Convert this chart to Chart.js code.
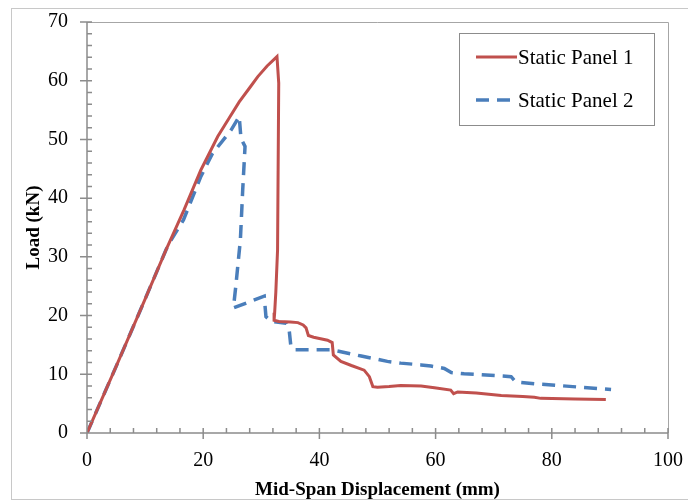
<!DOCTYPE html>
<html>
<head>
<meta charset="utf-8">
<title>Load vs Mid-Span Displacement</title>
<script src="https://cdn.jsdelivr.net/npm/chart.js@4.4.1/dist/chart.umd.min.js"></script>
<style>
    html, body { margin: 0; padding: 0; background: #fff; }
    #wrap { width: 688px; height: 501px; }
</style>
</head>
<body>
<div id="wrap"><canvas id="loadChart" width="688" height="501"></canvas></div>
<script>
// Panel 1 (static) load-displacement record
const panel1Disp = [0, 5, 10, 13.6, 16.7, 19.6, 22.5, 24.5, 26.2, 28, 29.4, 31, 32.7, 33.0, 32.8, 32.5, 32.3, 32.2, 33, 35, 36.3, 37.2, 37.7, 38.1, 39, 41.4, 42.2, 42.4, 43.7, 45.5, 47.7, 48.6, 49.2, 50, 52, 54, 57.5, 59.8, 62.6, 63.1, 63.8, 67, 71.3, 75, 77, 78.1, 84, 89.3];
const panel1Load = [0, 11.3, 22.8, 31.2, 38.0, 44.8, 50.5, 53.7, 56.4, 58.8, 60.7, 62.5, 64.1, 59.6, 31.2, 24, 20.5, 19.2, 19.0, 18.9, 18.8, 18.4, 17.9, 16.6, 16.3, 15.8, 15.4, 13.3, 12.2, 11.5, 10.7, 9.6, 7.9, 7.8, 7.9, 8.1, 8.0, 7.7, 7.3, 6.7, 7.0, 6.8, 6.4, 6.2, 6.1, 5.9, 5.8, 5.7];

// Panel 2 (static) load-displacement record
const panel2Disp = [0, 5, 10, 13.6, 14.5, 16.6, 19.6, 21.6, 24.8, 26.2, 26.5, 27.2, 26.8, 26.4, 25.6, 25.2, 30.5, 30.8, 31.7, 34.3, 34.8, 35.1, 35.7, 42, 47.2, 51.7, 54, 57.5, 59.2, 61.5, 62.7, 64.9, 73, 73.8, 77, 90.2];
const panel2Load = [0, 11.3, 22.8, 31.2, 32.9, 36.3, 43.7, 47.6, 51.6, 53.9, 50.2, 48.8, 41.4, 32.9, 24.9, 21.3, 23.3, 19.8, 19.0, 18.7, 17.5, 14.7, 14.2, 14.2, 13.1, 12.2, 11.9, 11.6, 11.4, 11.0, 10.3, 10.1, 9.6, 8.7, 8.4, 7.4];

const seriesLabels = ['Static Panel 1', 'Static Panel 2'];
const xTicks = [0, 20, 40, 60, 80, 100];
const yTicks = [0, 10, 20, 30, 40, 50, 60, 70];

const toPoints = (xs, ys) => xs.map((x, i) => ({ x: x, y: ys[i] }));

const serif = '"Liberation Serif", "Times New Roman", serif';
const axisGray = '#8c8c8c';

// Frame around the whole figure plus the plot box
const framePlugin = {
    id: 'frame',
    beforeDraw(chart) {
        const ctx = chart.ctx;
        ctx.save();
        ctx.fillStyle = '#fff';
        ctx.fillRect(0, 0, chart.width, chart.height);
        ctx.strokeStyle = '#c8c8c8';
        ctx.lineWidth = 1;
        ctx.strokeRect(11.5, 8.5, 690, 491);
        ctx.restore();
    },
    afterDatasetsDraw(chart) {
        const { ctx, chartArea: a, scales } = chart;
        const xs = scales.x, ys = scales.y;
        ctx.save();
        ctx.strokeStyle = '#a6a6a6';
        ctx.lineWidth = 1;
        ctx.beginPath();
        ctx.moveTo(a.left, a.top + 0.5);
        ctx.lineTo(a.right + 0.5, a.top + 0.5);
        ctx.lineTo(a.right + 0.5, a.bottom);
        ctx.stroke();

        ctx.strokeStyle = axisGray;
        ctx.lineWidth = 1.5;
        ctx.beginPath();
        ctx.moveTo(a.left, a.top);
        ctx.lineTo(a.left, a.bottom);
        ctx.lineTo(a.right, a.bottom);
        // x ticks: minor every 4 inside, major every 20 across
        for (let v = 0; v <= 100; v += 4) {
            const px = xs.getPixelForValue(v);
            ctx.moveTo(px, a.bottom);
            ctx.lineTo(px, a.bottom - 5);
        }
        xTicks.forEach(v => {
            const px = xs.getPixelForValue(v);
            ctx.moveTo(px, a.bottom + 6);
            ctx.lineTo(px, a.bottom - 5);
        });
        // y ticks: minor every 2 inside, major every 10 across
        for (let v = 0; v <= 70; v += 2) {
            const py = ys.getPixelForValue(v);
            ctx.moveTo(a.left, py);
            ctx.lineTo(a.left + 5, py);
        }
        yTicks.forEach(v => {
            const py = ys.getPixelForValue(v);
            ctx.moveTo(a.left - 7, py);
            ctx.lineTo(a.left + 5, py);
        });
        ctx.stroke();
        ctx.restore();
    },
    afterDraw(chart) {
        // boxed legend in the upper right of the plot
        const ctx = chart.ctx;
        const box = { x: 459.5, y: 33.5, w: 195, h: 92 };
        ctx.save();
        ctx.fillStyle = '#fff';
        ctx.fillRect(box.x, box.y, box.w, box.h);
        ctx.strokeStyle = '#8c8c8c';
        ctx.lineWidth = 1;
        ctx.strokeRect(box.x, box.y, box.w, box.h);
        ctx.font = '21px ' + serif;
        ctx.textBaseline = 'middle';
        ctx.fillStyle = '#000';
        chart.data.datasets.forEach((ds, i) => {
            const yy = 57 + i * 43;
            ctx.strokeStyle = ds.borderColor;
            ctx.lineWidth = ds.borderWidth;
            ctx.setLineDash(ds.borderDash || []);
            ctx.beginPath();
            ctx.moveTo(476, yy);
            ctx.lineTo(517, yy);
            ctx.stroke();
            ctx.setLineDash([]);
            ctx.fillText(ds.label, 518, yy + 1);
        });
        ctx.restore();
    }
};

new Chart(document.getElementById('loadChart'), {
    type: 'line',
    data: {
        datasets: [{
            label: seriesLabels[0],
            data: toPoints(panel1Disp, panel1Load),
            borderColor: '#c0504d',
            borderWidth: 3,
            pointRadius: 0,
            tension: 0,
            fill: false
        }, {
            label: seriesLabels[1],
            data: toPoints(panel2Disp, panel2Load),
            borderColor: '#4a7ebb',
            borderWidth: 3.5,
            borderDash: [13, 8],
            pointRadius: 0,
            tension: 0,
            fill: false
        }]
    },
    options: {
        responsive: false,
        animation: false,
        layout: { padding: { left: 21, right: 20, top: 22, bottom: 0 } },
        plugins: {
            legend: { display: false },
            tooltip: { enabled: false }
        },
        scales: {
            x: {
                type: 'linear',
                min: 0,
                max: 100,
                afterBuildTicks: s => { s.ticks = xTicks.map(v => ({ value: v })); },
                afterFit: s => {
                    s.height = 68;
                    s.paddingLeft = 0;
                    s.paddingRight = 0;
                },
                grid: { display: false, drawTicks: false },
                border: { display: false },
                ticks: { color: '#000', padding: 16, maxRotation: 0, font: { family: serif, size: 20 } },
                title: {
                    display: true,
                    text: 'Mid-Span Displacement (mm)',
                    color: '#000',
                    padding: 0,
                    font: { family: serif, size: 19, weight: 'bold' }
                }
            },
            y: {
                min: 0,
                max: 70,
                afterBuildTicks: s => { s.ticks = yTicks.map(v => ({ value: v })); },
                afterFit: s => {
                    s.width = 66;
                    s.paddingTop = 0;
                    s.paddingBottom = 0;
                },
                grid: { display: false, drawTicks: false },
                border: { display: false },
                ticks: { color: '#000', padding: 19, font: { family: serif, size: 20 } },
                title: {
                    display: true,
                    text: 'Load (kN)',
                    color: '#000',
                    padding: 2,
                    font: { family: serif, size: 19, weight: 'bold' }
                }
            }
        }
    },
    plugins: [framePlugin]
});
</script>
</body>
</html>
